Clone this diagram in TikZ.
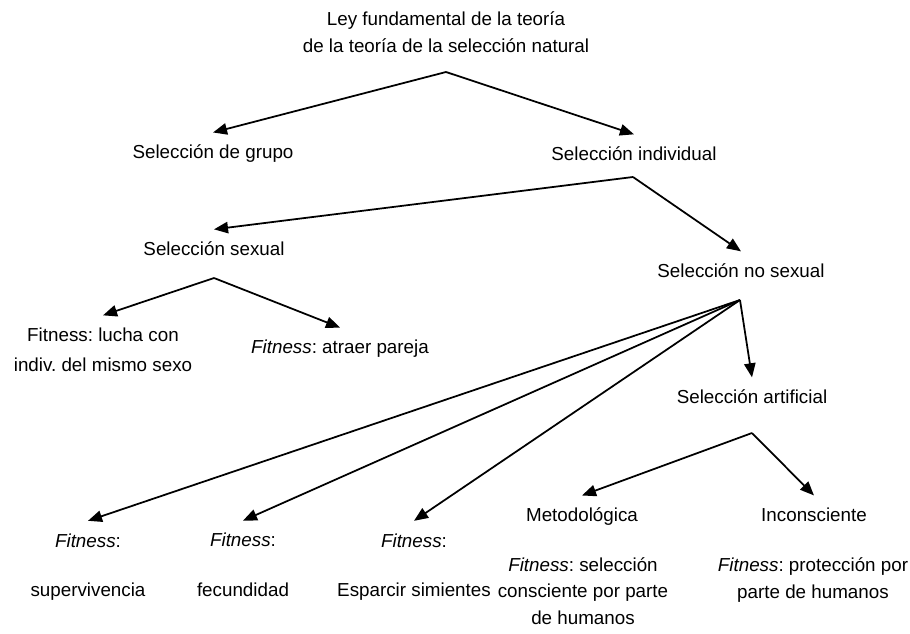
\documentclass[tikz,border=0pt]{standalone}
\usepackage{fontspec}
\setmainfont{Liberation Sans}
\usetikzlibrary{arrows.meta}
\frenchspacing

\begin{document}
\begin{tikzpicture}[
            x=0.02cm,
            y=-0.02cm,
            concept/.style={
                inner xsep=2pt,
                inner ysep=7pt,
                align=center,
                font=\fontsize{10.7}{15.2}\selectfont
            },
            note/.style={
                concept,
                inner ysep=2pt
            },
            arrow/.style={
                line width=1pt,
                -{Triangle[length=8pt,width=6.5pt]}
            }
        ]
            \useasboundingbox (0,0) rectangle (910,633);

            % Define nodes
            \node[concept] (ley) at (446,32) {Ley fundamental de la teoría\\de la teoría de la selección natural};
            \node[concept] (grupo) at (213,154) {Selección de grupo};
            \node[concept] (individual) at (634,154) {Selección individual};
            \node[concept] (sexual) at (214,249) {Selección sexual};
            \node[concept] (nosexual) at (741,271) {Selección no sexual};
            \node[concept] (lucha) at (103,350) {Fitness: lucha con\\[2pt]indiv. del mismo sexo};
            \node[concept] (pareja) at (340,349) {\textit{Fitness}: atraer pareja};
            \node[concept] (artificial) at (752,397) {Selección artificial};
            \node[concept] (supervivencia) at (88,567) {\textit{Fitness}:\\[13pt]supervivencia};
            \node[concept] (fecundidad) at (243,565) {\textit{Fitness}:\\[13pt]fecundidad};
            \node[concept] (simientes) at (414,567) {\textit{Fitness}:\\[13pt]Esparcir simientes};
            \node[concept] (metodologica) at (582,517) {Metodológica};
            \node[concept] (inconsciente) at (814,515) {Inconsciente};
            \node[note] (consciente) at (583,591) {\textit{Fitness}: selección\\consciente por parte\\de humanos};
            \node[note] (proteccion) at (813,580) {\textit{Fitness}: protección por\\parte de humanos};

            % Fork points
            \coordinate (leyfork) at (446,72);
            \coordinate (indivfork) at (633,177);
            \coordinate (sexfork) at (214,278);
            \coordinate (nosexfork) at (740,300);
            \coordinate (artifork) at (752,433);

            % Draw edges
            \draw[arrow] (leyfork) -- (grupo.north);
            \draw[arrow] (leyfork) -- (individual.north);
            \draw[arrow] (indivfork) -- (sexual.north);
            \draw[arrow] (indivfork) -- (nosexual.north);
            \draw[arrow] (sexfork) -- (lucha.north);
            \draw[arrow] (sexfork) -- (pareja.north);
            \draw[arrow] (nosexfork) -- (supervivencia.north);
            \draw[arrow] (nosexfork) -- (fecundidad.north);
            \draw[arrow] (nosexfork) -- (simientes.north);
            \draw[arrow] (nosexfork) -- (artificial.north);
            \draw[arrow] (artifork) -- (metodologica.north);
            \draw[arrow] (artifork) -- (inconsciente.north);
        \end{tikzpicture}
\end{document}
